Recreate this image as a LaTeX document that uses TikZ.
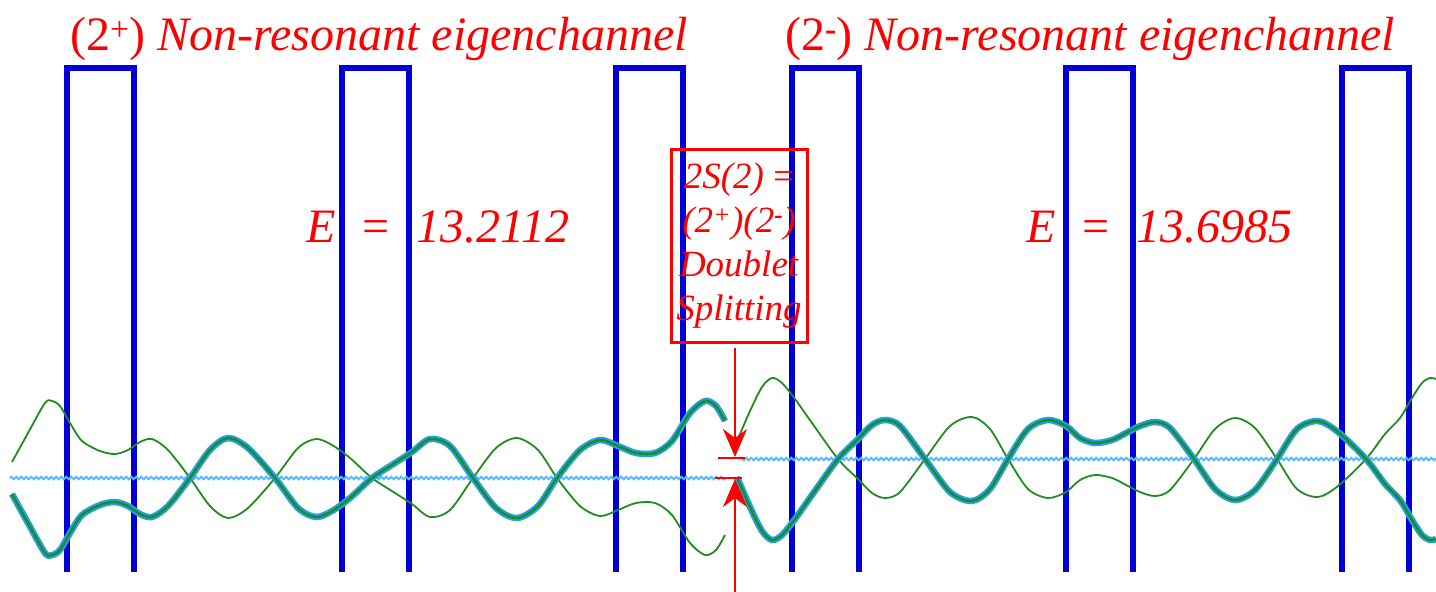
\documentclass[tikz,border=0pt]{standalone}
\usepackage{fontspec}
\setmainfont{Liberation Serif}
\usetikzlibrary{arrows.meta,decorations.pathmorphing}

\definecolor{barblue}{RGB}{0,0,215}
\definecolor{wavegreen}{RGB}{34,139,34}
\definecolor{waveblue}{RGB}{30,160,245}
\definecolor{axisblue}{RGB}{90,185,255}

\tikzset{
  barrier/.style={draw=barblue, line width=5.5pt},
  axisline/.style={draw=axisblue, line width=2pt, decorate,
    decoration={zigzag, segment length=5pt, amplitude=1.3pt}},
  thinwave/.style={draw=wavegreen, line width=1.8pt},
  thickwave/.style={draw=wavegreen, line width=2.6pt,
    preaction={draw=waveblue, line width=6.5pt}},
  title/.style={text=red, inner sep=0pt, font=\fontsize{48}{50}\selectfont},
  elabel/.style={text=red, inner sep=0pt, font=\fontsize{48}{50}\selectfont},
  splitbox/.style={draw=red, line width=3pt, text=red, align=center,
    minimum width=136pt, minimum height=193pt, inner sep=0pt,
    font=\fontsize{37}{44}\selectfont},
  redline/.style={draw=red, line width=2.5pt},
  splitarrow/.style={redline, -{Stealth[length=28pt,width=24pt,inset=9pt]}}
}

\begin{document}
\begin{tikzpicture}[x=1pt,y=-1pt]
    \useasboundingbox (0,0) rectangle (1436,592);

    % potential barriers
    \foreach \bx in {67,342,616,792,1066,1342}
      \draw[barrier] (\bx,572) |- (\bx+67,68) -- (\bx+67,572);

    % axes of the two eigenchannels
    \draw[axisline] (10,478) -- (727,478);
    \draw[axisline] (740,459) -- (1436,459);

    % (2+) wave, mirrored copy in thin line
    \foreach \s/\sty in {-1/thinwave,1/thickwave}{
      \begin{scope}[shift={(0,478)},yscale=\s]
        \draw[\sty] plot[smooth] coordinates {(12,16) (28,45) (45,75) (52,77)
          (60,72) (70,55) (82,37) (100,27) (115,24) (128,28) (140,36) (152,39)
          (168,28) (190,0) (210,-28) (228,-40) (248,-30) (275,0) (298,30)
          (316,39) (332,33) (350,20) (372,0) (395,-15) (412,-26) (430,-39)
          (450,-32) (473,0) (496,30) (517,40) (538,28) (557,0) (580,-28)
          (600,-38) (618,-32) (636,-25) (655,-25) (672,-37) (690,-65)
          (705,-77) (716,-72) (725,-57)};
      \end{scope}
    }

    % (2-) wave, mirrored copy in thin line
    \foreach \s/\sty in {-1/thinwave,1/thickwave}{
      \begin{scope}[shift={(0,459)},yscale=\s]
        \draw[\sty] plot[smooth] coordinates {(737,18) (750,48) (762,72)
          (772,81) (782,76) (795,60) (812,36) (838,0) (858,-20) (872,-34)
          (885,-39) (900,-33) (925,0) (950,33) (972,42) (990,30) (1008,0)
          (1028,-30) (1048,-39) (1066,-33) (1080,-21) (1095,-16) (1112,-19)
          (1128,-27) (1140,-33) (1155,-37) (1170,-31) (1194,0) (1215,30)
          (1235,41) (1255,31) (1277,0) (1297,-30) (1318,-38) (1338,-27)
          (1366,0) (1385,25) (1400,41) (1412,61) (1422,76) (1430,81)
          (1436,80)};
      \end{scope}
    }

    % titles
    \node[title, anchor=base west] (lefttitle) at (70,50)
      {(2\textsuperscript{+}) \textit{Non-resonant eigenchannel}};
    \node[title, anchor=base west] (righttitle) at (785,50)
      {(2\textsuperscript{\textbf{-}}) \textit{Non-resonant eigenchannel}};

    % energies
    \node[elabel, anchor=base west] (leftenergy) at (306,242)
      {\textit{E}\hspace{27pt}=\hspace{27pt}\textit{13.2112}};
    \node[elabel, anchor=base west] (rightenergy) at (1026,242)
      {\textit{E}\hspace{27pt}=\hspace{27pt}\textit{13.6985}};

    % doublet splitting
    \node[splitbox] (splitbox) at (739,245.5)
      {\textit{2S(2)} =\\ \textit{(2\textsuperscript{+})(2\textsuperscript{\textbf{-}})}\\
       \textit{Doublet}\\ \textit{Splitting}};
    \coordinate (arrowtop) at (735,348);
    \coordinate (uptip) at (735,457);
    \coordinate (lowtip) at (735,479);
    \coordinate (arrowbottom) at (735,592);
    \draw[splitarrow] (arrowtop) -- (uptip);
    \draw[splitarrow] (arrowbottom) -- (lowtip);
    \draw[redline] (718,458) -- (745,458);
    \draw[redline] (715,478) -- (742,478);
\end{tikzpicture}
\end{document}
